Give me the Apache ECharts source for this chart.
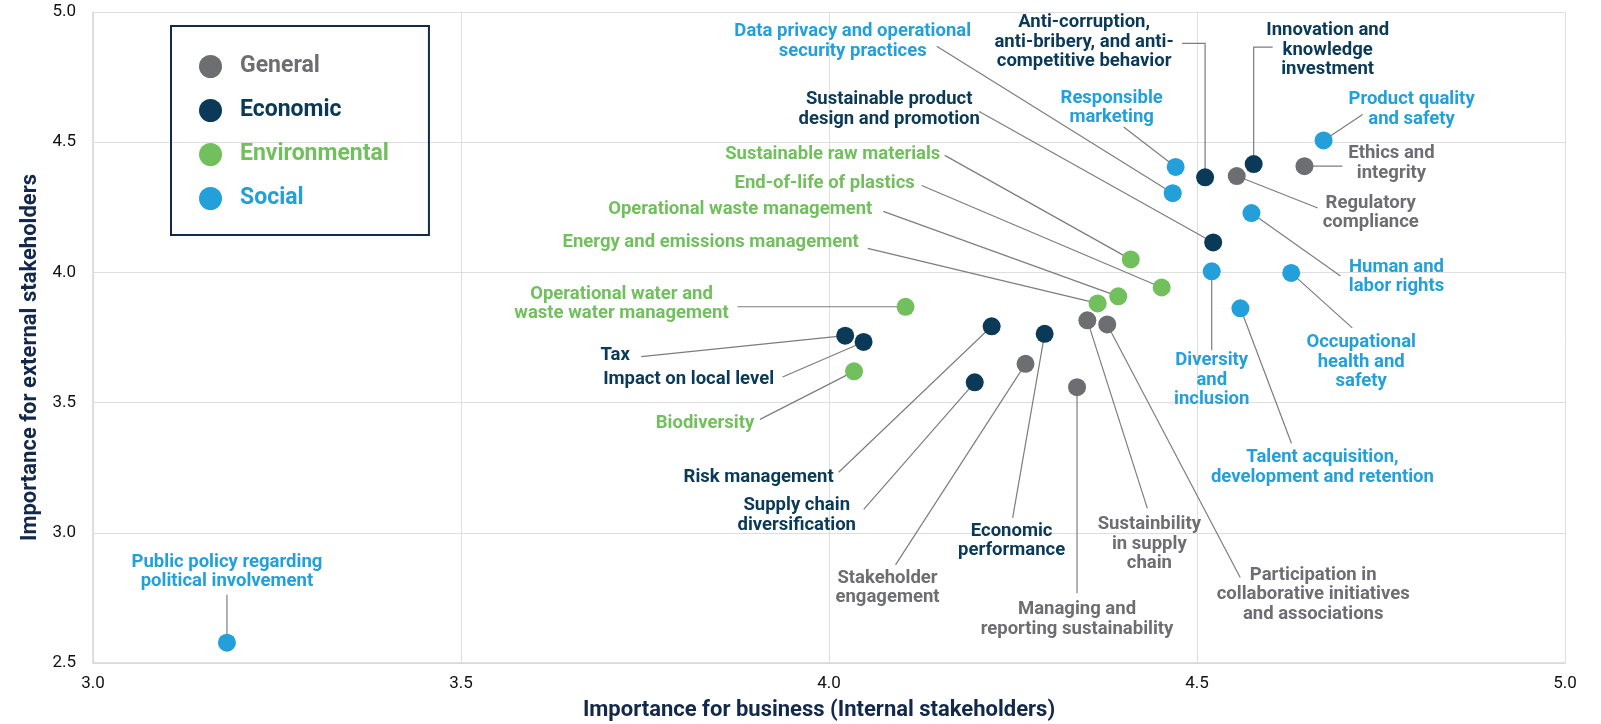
<!DOCTYPE html>
<html>
<head>
    <meta charset="UTF-8">
    <title>Materiality matrix</title>
    <script src="https://cdn.jsdelivr.net/npm/echarts@6.0.0/dist/echarts.min.js"></script>
    <style>
        html, body {margin: 0; padding: 0; background: #fff;}
        #main {width: 1601px; height: 724px;}
    </style>
</head>
<body>
<div id="main"></div>
<script type="text/javascript">

    // 数据 (importance for business = x, importance for external stakeholders = y)
    var generalNames = ['Ethics and\nintegrity', 'Regulatory\ncompliance', 'Sustainbility\nin supply\nchain',
        'Participation in\ncollaborative initiatives\nand associations', 'Stakeholder\nengagement',
        'Managing and\nreporting sustainability'];
    var generalX = [4.646, 4.554, 4.351, 4.378, 4.267, 4.337];
    var generalY = [4.408, 4.370, 3.816, 3.800, 3.649, 3.559];

    var economicNames = ['Innovation and\nknowledge\ninvestment', 'Anti-corruption,\nanti-bribery, and anti-\ncompetitive behavior',
        'Sustainable product\ndesign and promotion', 'Tax', 'Impact on local level', 'Risk management',
        'Supply chain\ndiversification', 'Economic\nperformance'];
    var economicX = [4.577, 4.511, 4.522, 4.022, 4.047, 4.221, 4.198, 4.293];
    var economicY = [4.416, 4.365, 4.115, 3.757, 3.733, 3.793, 3.578, 3.764];

    var environmentalNames = ['Sustainable raw materials', 'End-of-life of plastics', 'Operational waste management',
        'Energy and emissions management', 'Operational water and\nwaste water management', 'Biodiversity'];
    var environmentalX = [4.410, 4.452, 4.393, 4.365, 4.104, 4.034];
    var environmentalY = [4.050, 3.942, 3.908, 3.881, 3.868, 3.620];

    var socialNames = ['Product quality\nand safety', 'Responsible\nmarketing', 'Data privacy and operational\nsecurity practices',
        'Human and\nlabor rights', 'Diversity\nand\ninclusion', 'Occupational\nhealth and\nsafety',
        'Talent acquisition,\ndevelopment and retention', 'Public policy regarding\npolitical involvement'];
    var socialX = [4.672, 4.471, 4.467, 4.574, 4.520, 4.628, 4.559, 3.182];
    var socialY = [4.507, 4.405, 4.304, 4.228, 4.004, 3.998, 3.862, 2.578];

    var xTicks = [3.0, 3.5, 4.0, 4.5, 5.0];
    var yTicks = [2.5, 3.0, 3.5, 4.0, 4.5, 5.0];

    // label placement, pixels relative to the dot: [labelDx, labelDy, lineEndDx, lineEndDy, elbowDx, elbowDy]
    var generalPlace = [[87, -3, 38, 0], [134, 37, 81, 32], [62, 224, 60, 188], [206, 270, 133, 253],
        [-138, 224, -130, 201], [0, 232, 0, 206]];
    var economicPlace = [[74, -114, 19, -117, 0, -117], [-121, -135, -23, -134, 0, -134], [-324, -133, -234, -131],
        [-230, 20, -204, 21], [-175, 37, -81, 35], [-233, 151, -153, 146], [-178, 133, -111, 127], [-33, 207, -32, 184]];
    var environmentalPlace = [[-298, -105, -186, -104], [-337, -104, -240, -102], [-378, -87, -235, -85],
        [-387, -61, -230, -55], [-284, -3, -168, 0], [-149, 52, -94, 48]];
    var socialPlace = [[88, -31, 39, -26], [-64, -59, -52, -40], [-320, -152, -236, -147], [145, 64, 89, 63],
        [0, 109, 0, 79], [70, 89, 61, 55], [82, 159, 51, 135], [0, -71, 0, -48]];

    var colors = {
        General: '#6d6e71',
        Economic: '#0a3a57',
        Environmental: '#71bf5d',
        Social: '#23a0d9'
    };
    var navy = '#13294b';

    function pairs(xs, ys) {
        return xs.map(function (x, i) { return [x, ys[i]]; });
    }

    function dotSeries(name, xs, ys, names) {
        return {
            name: name,
            type: 'scatter',
            z: 3,
            symbolSize: 18,
            itemStyle: {color: colors[name], opacity: 1},
            emphasis: {disabled: true},
            data: pairs(xs, ys).map(function (p, i) { return {name: names[i], value: p}; })
        };
    }

    // leader lines and texts, placed from the dot position given by the axes
    function labelSeries(name, xs, ys, names, place) {
        return {
            name: name + ' labels',
            type: 'custom',
            z: 1,
            silent: true,
            data: pairs(xs, ys),
            renderItem: function (params, api) {
                var c = api.coord([api.value(0), api.value(1)]);
                var p = place[params.dataIndex];
                var pts = [c];
                if (p.length > 4) pts.push([c[0] + p[4], c[1] + p[5]]);
                pts.push([c[0] + p[2], c[1] + p[3]]);
                return {
                    type: 'group',
                    children: [{
                        type: 'polyline',
                        shape: {points: pts},
                        style: {stroke: '#7d7d7d', lineWidth: 1.2, fill: null}
                    }, {
                        type: 'text',
                        x: c[0] + p[0],
                        y: c[1] + p[1],
                        style: {
                            text: names[params.dataIndex],
                            fill: colors[name],
                            fontFamily: 'Roboto',
                            fontWeight: 'bold',
                            fontSize: 18.5,
                            lineHeight: 19.5,
                            align: 'center',
                            verticalAlign: 'middle'
                        }
                    }]
                };
            }
        };
    }

    var myChart = echarts.init(document.getElementById('main'));
    myChart.setOption({
        animation: false,
        textStyle: {fontFamily: 'Roboto'},
        grid: {left: 93, right: 36, top: 12, bottom: 61, containLabel: false, outerBoundsMode: 'none'},
        legend: {
            orient: 'vertical',
            left: 171,
            top: 26,
            selectedMode: false,
            icon: 'circle',
            itemWidth: 23,
            itemHeight: 23,
            itemGap: 21,
            padding: [29, 40, 25, 28],
            borderColor: navy,
            borderWidth: 2,
            textStyle: {fontSize: 23, fontWeight: 'bold', fontFamily: 'Roboto', padding: [0, 0, 0, 13]},
            data: Object.keys(colors).map(function (k) {
                return {name: k, textStyle: {color: colors[k]}};
            })
        },
        xAxis: {
            type: 'value',
            min: xTicks[0],
            max: xTicks[xTicks.length - 1],
            interval: 0.5,
            name: 'Importance for business (Internal stakeholders)',
            nameLocation: 'middle',
            nameGap: 36,
            nameTextStyle: {fontSize: 22, fontWeight: 'bold', color: navy, fontFamily: 'Roboto', padding: [0, 20, 0, 0]},
            axisLine: {show: true, lineStyle: {color: '#d8d8d8', width: 1.5}},
            axisTick: {show: false},
            splitLine: {show: true, lineStyle: {color: '#dedede', width: 1}},
            axisLabel: {
                fontSize: 17, color: '#111', margin: 12,
                formatter: function (v) { return v.toFixed(1); }
            }
        },
        yAxis: {
            type: 'value',
            min: yTicks[0],
            max: yTicks[yTicks.length - 1],
            interval: 0.5,
            name: 'Importance for external stakeholders',
            nameLocation: 'middle',
            nameGap: 51,
            nameTextStyle: {fontSize: 22, fontWeight: 'bold', color: navy, fontFamily: 'Roboto', padding: [0, 40, 0, 0]},
            axisLine: {show: true, lineStyle: {color: '#d8d8d8', width: 1.5}},
            axisTick: {show: false},
            splitLine: {show: true, lineStyle: {color: '#dedede', width: 1}},
            axisLabel: {
                fontSize: 17, color: '#111', margin: 17, padding: [8, 0, 0, 0],
                formatter: function (v) { return v.toFixed(1); }
            }
        },
        series: [
            labelSeries('General', generalX, generalY, generalNames, generalPlace),
            labelSeries('Economic', economicX, economicY, economicNames, economicPlace),
            labelSeries('Environmental', environmentalX, environmentalY, environmentalNames, environmentalPlace),
            labelSeries('Social', socialX, socialY, socialNames, socialPlace),
            dotSeries('General', generalX, generalY, generalNames),
            dotSeries('Economic', economicX, economicY, economicNames),
            dotSeries('Environmental', environmentalX, environmentalY, environmentalNames),
            dotSeries('Social', socialX, socialY, socialNames)
        ]
    });

</script>
</body>
</html>
